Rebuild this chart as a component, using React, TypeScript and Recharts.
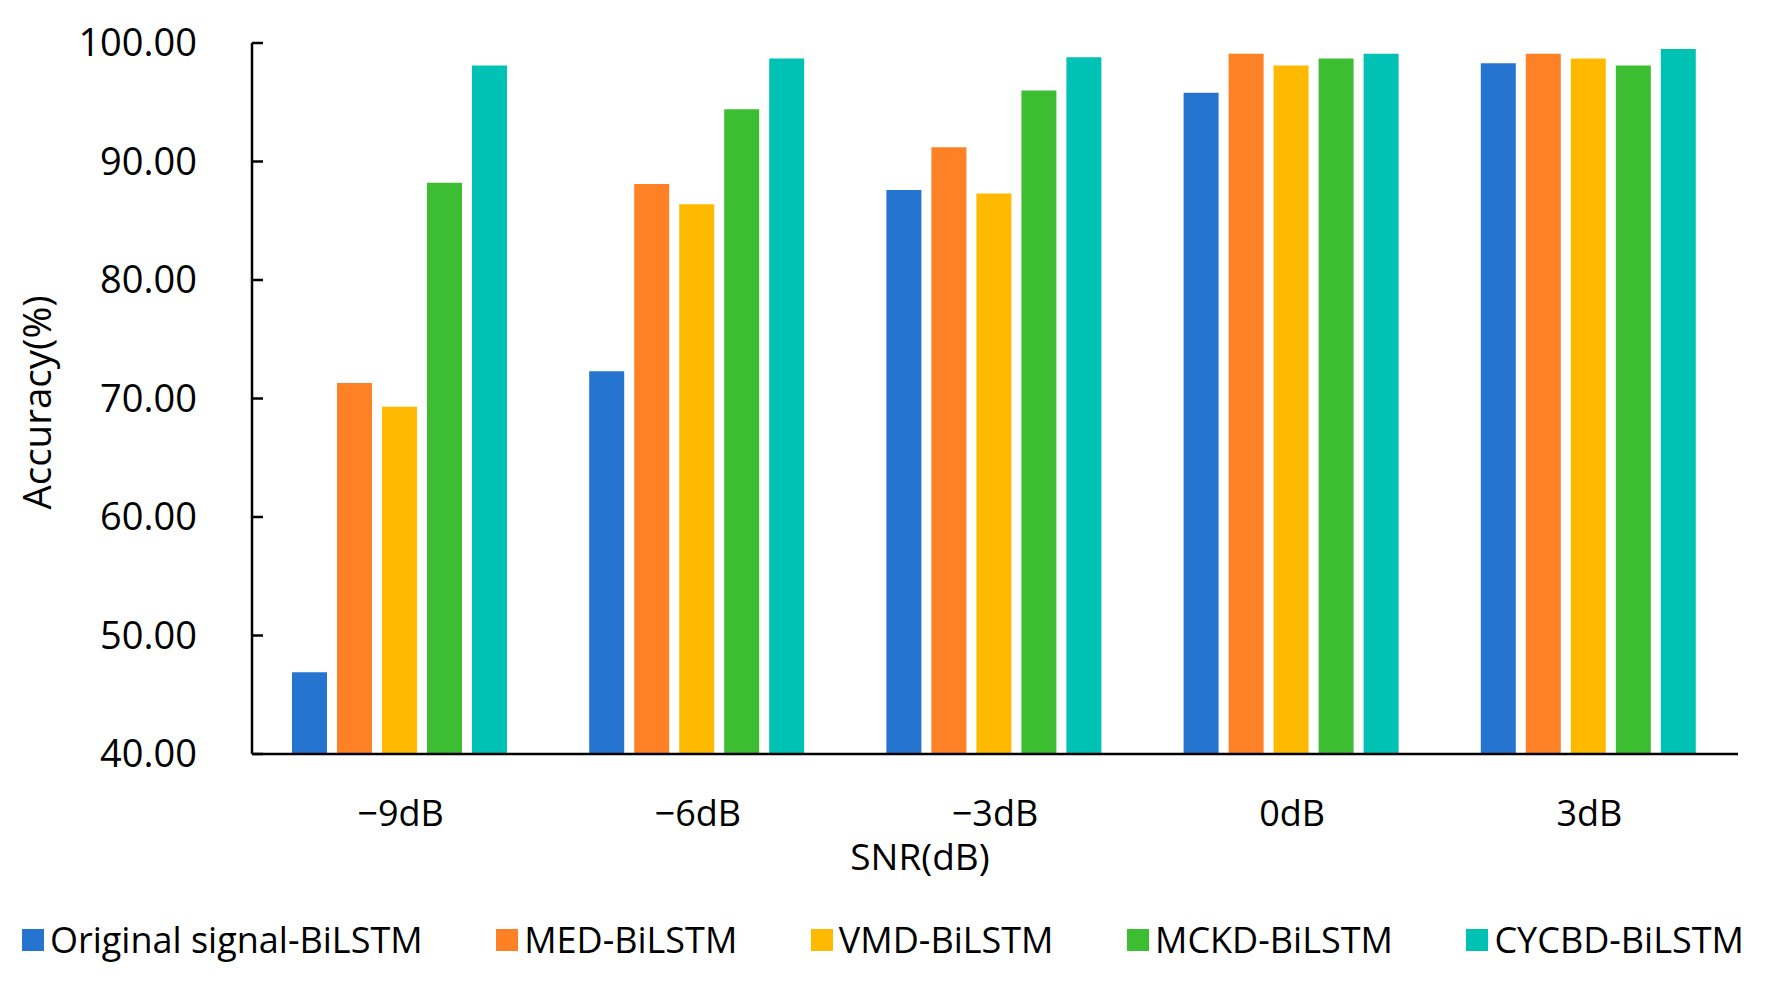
import React from 'react';
import { BarChart, Bar, XAxis, YAxis, Legend } from 'recharts';

const categories = ['\u22129dB', '\u22126dB', '\u22123dB', '0dB', '3dB'];
const seriesNames = ['Original signal-BiLSTM', 'MED-BiLSTM', 'VMD-BiLSTM', 'MCKD-BiLSTM', 'CYCBD-BiLSTM'];
const seriesKeys = ['original', 'med', 'vmd', 'mckd', 'cycbd'];
const seriesColors = ['#2574D0', '#FF8125', '#FFBA00', '#3DBD32', '#00C2B4'];

const originalValues = [46.9, 72.3, 87.6, 95.8, 98.3];
const medValues = [71.3, 88.1, 91.2, 99.1, 99.1];
const vmdValues = [69.3, 86.4, 87.3, 98.1, 98.7];
const mckdValues = [88.2, 94.4, 96.0, 98.7, 98.1];
const cycbdValues = [98.1, 98.7, 98.8, 99.1, 99.5];

const yTicks = [40, 50, 60, 70, 80, 90, 100];

const allValues = [originalValues, medValues, vmdValues, mckdValues, cycbdValues];

const data = categories.map((c, i) => {
  const row: any = { snr: c };
  seriesKeys.forEach((k, j) => {
    row[k] = allValues[j][i];
  });
  return row;
});

const FONT = '"Open Sans", sans-serif';

const LegendContent = () => (
  <div
    style={{
      height: 70,
      width: 1722,
      marginLeft: 22,
      display: 'flex',
      justifyContent: 'space-between',
      alignItems: 'center',
      fontFamily: FONT,
      fontSize: 36,
      color: '#000',
    }}
  >
    {seriesNames.map((n, i) => (
      <div key={n} style={{ display: 'flex', alignItems: 'center' }}>
        <div style={{ width: 22, height: 22, background: seriesColors[i], marginRight: 6 }} />
        <span style={{ lineHeight: '46px' }}>{n}</span>
      </div>
    ))}
  </div>
);

const YTick = (props: any) => {
  const { x, y, payload } = props;
  return (
    <g>
      <line x1={x} x2={x + 11} y1={y} y2={y} stroke="#000" strokeWidth={2.5} />
      <text
        x={x - 55}
        y={y}
        dy="0.355em"
        textAnchor="end"
        fontFamily={FONT}
        fontSize={38}
        fill="#000"
      >
        {Number(payload.value).toFixed(2)}
      </text>
    </g>
  );
};

export default function App() {
  return (
    <div style={{ position: 'absolute', left: 0, top: 0, width: 1768, height: 984, background: '#fff' }}>
      <BarChart
        width={1768}
        height={984}
        data={data}
        margin={{ top: 43, right: 30, bottom: 30, left: 0 }}
        barCategoryGap={40}
        barGap={10}
      >
        <XAxis
          dataKey="snr"
          height={130}
          axisLine={{ stroke: '#000', strokeWidth: 2.5 }}
          tickLine={false}
          tickSize={0}
          tickMargin={46}
          tick={{ fontFamily: FONT, fontSize: 36, fill: '#000' }}
          label={{
            content: (props: any) => {
              const vb = props.viewBox;
              return (
                <text
                  x={vb.x + vb.width / 2 - 75}
                  y={vb.y + 116}
                  textAnchor="middle"
                  fontFamily={FONT}
                  fontSize={37}
                  fill="#000"
                >
                  SNR(dB)
                </text>
              );
            },
          }}
        />
        <YAxis
          width={252}
          domain={[40, 100]}
          ticks={yTicks}
          interval={0}
          axisLine={{ stroke: '#000', strokeWidth: 2.5 }}
          tickLine={false}
          tickSize={0}
          tickMargin={0}
          tick={<YTick />}
          label={{
            content: (props: any) => {
              const vb = props.viewBox;
              const cx = 51;
              const cy = vb.y + vb.height / 2 + 4;
              return (
                <text
                  x={cx}
                  y={cy}
                  transform={`rotate(-90, ${cx}, ${cy})`}
                  textAnchor="middle"
                  fontFamily={FONT}
                  fontSize={38.5}
                  fill="#000"
                >
                  Accuracy(%)
                </text>
              );
            },
          }}
        />
        <Legend
          verticalAlign="bottom"
          content={() => <LegendContent />}
          wrapperStyle={{ top: 905, bottom: 'auto', left: 0, width: 1768 }}
        />
        {seriesKeys.map((k, i) => (
          <Bar key={k} dataKey={k} name={seriesNames[i]} fill={seriesColors[i]} isAnimationActive={false} />
        ))}
      </BarChart>
    </div>
  );
}
